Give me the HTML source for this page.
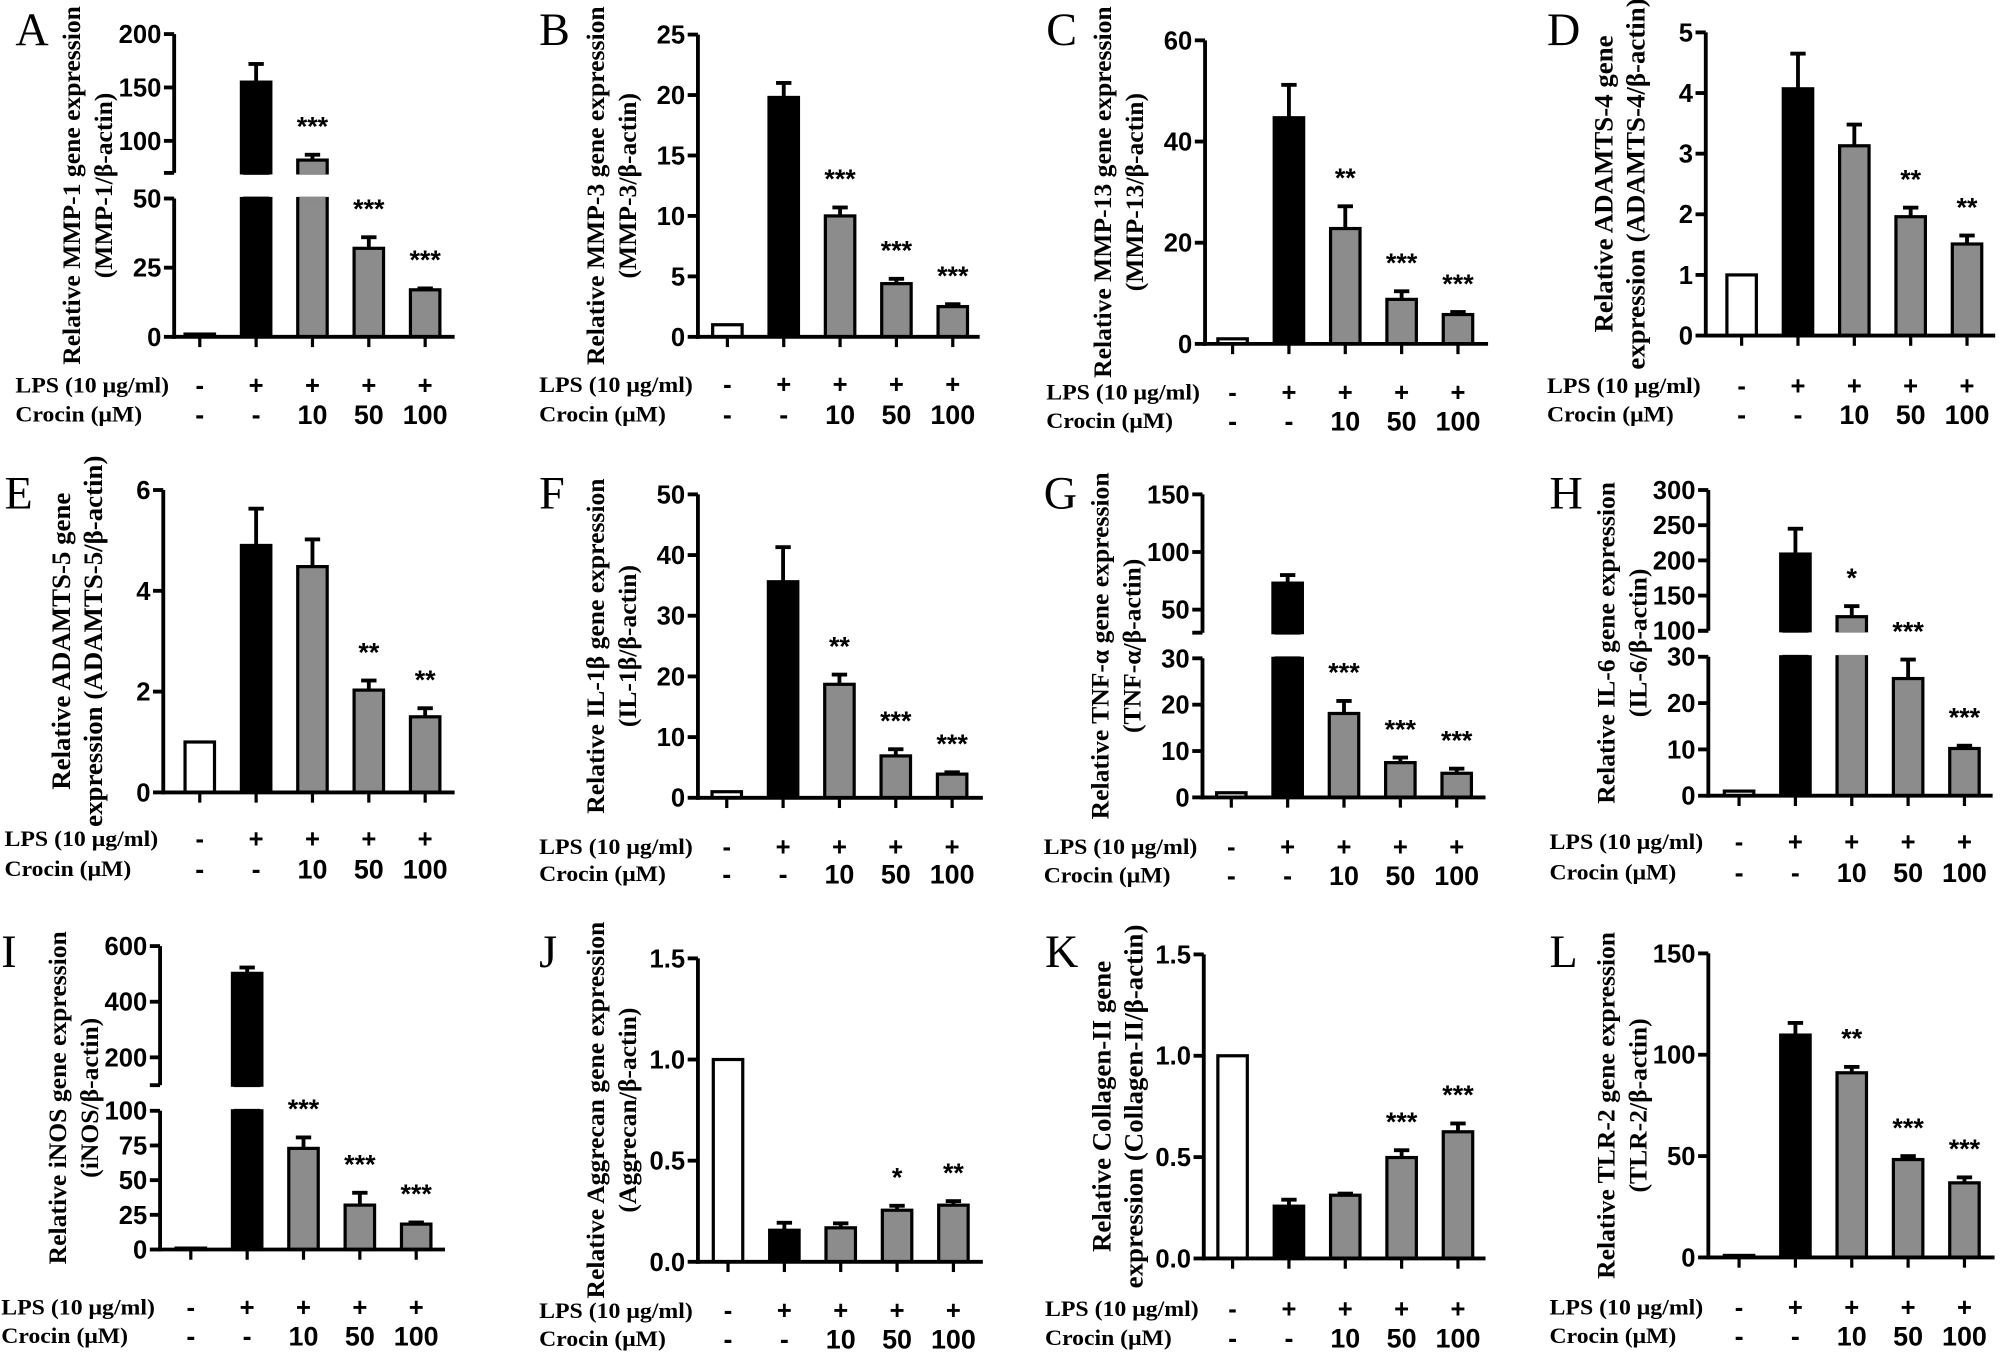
<!DOCTYPE html>
<html><head><meta charset="utf-8"><title>Crocin gene expression panels</title>
<style>
html,body{margin:0;padding:0;background:#fff;}
svg{display:block;}
</style></head>
<body>
<svg id="fig" xmlns="http://www.w3.org/2000/svg" width="2008" height="1364" viewBox="0 0 1568 1065" preserveAspectRatio="none"></svg>
<script>
// ---- data ----
const lpsLabels = ["-","+","+","+","+"];
const crocinLabels = ["-","-","10","50","100"];
const panelIds = ["A","B","C","D","E","F","G","H","I","J","K","L"];

const meanA = [1, 155, 82, 32, 17];      const errA = [1, 172, 87, 36, 17.5];   const starsA = ["","","***","***","***"];
const meanB = [1, 19.8, 10, 4.4, 2.5];   const errB = [1, 21, 10.7, 4.8, 2.7];  const starsB = ["","","***","***","***"];
const meanC = [1, 44.7, 22.8, 8.8, 5.8]; const errC = [1, 51.2, 27.2, 10.4, 6.3]; const starsC = ["","","**","***","***"];
const meanD = [1, 4.07, 3.13, 1.96, 1.51]; const errD = [1, 4.65, 3.48, 2.11, 1.65]; const starsD = ["","","","**","**"];
const meanE = [1, 4.9, 4.48, 2.03, 1.5]; const errE = [1, 5.63, 5.02, 2.22, 1.67]; const starsE = ["","","","**","**"];
const meanF = [1, 35.6, 18.7, 6.9, 3.9]; const errF = [1, 41.3, 20.3, 8.0, 4.2]; const starsF = ["","","**","***","***"];
const meanG = [1, 73, 18.1, 7.5, 5.2];   const errG = [1, 80, 20.8, 8.6, 6.2];  const starsG = ["","","***","***","***"];
const meanH = [1, 209, 120, 25.3, 10.2]; const errH = [1, 245, 135, 29.4, 10.8]; const starsH = ["","","*","***","***"];
const meanI = [1, 502, 72.9, 32, 18.3];  const errI = [1, 523, 80.8, 40.9, 19.5]; const starsI = ["","","***","***","***"];
const meanJ = [1, 0.156, 0.168, 0.255, 0.28]; const errJ = [1, 0.193, 0.19, 0.277, 0.30]; const starsJ = ["","","","*","**"];
const meanK = [1, 0.258, 0.312, 0.498, 0.625]; const errK = [1, 0.29, 0.32, 0.534, 0.666]; const starsK = ["","","","***","***"];
const meanL = [1, 109.7, 91.1, 48.3, 36.8]; const errL = [1, 115.7, 94, 50, 39.5]; const starsL = ["","","**","***","***"];

const ticksA_low = [0,25,50];   const ticksA_high = [100,150,200];
const ticksB = [0,5,10,15,20,25];
const ticksC = [0,20,40,60];
const ticksD = [0,1,2,3,4,5];
const ticksE = [0,2,4,6];
const ticksF = [0,10,20,30,40,50];
const ticksG_low = [0,10,20,30]; const ticksG_high = [50,100,150];
const ticksH_low = [0,10,20,30]; const ticksH_high = [100,150,200,250,300];
const ticksI_low = [0,25,50,75,100]; const ticksI_high = [200,400,600];
const ticksJ = [0,0.5,1,1.5];
const ticksK = [0,0.5,1,1.5];
const ticksL = [0,50,100,150];

// ---- layout (positions, not data) ----
const panels = [
 {id:"A", t1:"Relative MMP-1 gene expression", t2:"(MMP-1/\u03b2-actin)", fs:20, mean:meanA, err:errA, stars:starsA, ax:136, xEnd:355, first:20, rows:[300.6,323], ly:35,
  segs:[{v0:0,v1:50,y0:263,y1:155,ticks:ticksA_low},{v0:70,v1:200,y0:135,y1:26.6,ticks:ticksA_high}]},
 {id:"B", t1:"Relative MMP-3 gene expression", t2:"(MMP-3/\u03b2-actin)", fs:20, mean:meanB, err:errB, stars:starsB, ax:545, xEnd:765, first:23, rows:[300,323], ly:35,
  segs:[{v0:0,v1:25,y0:263,y1:27,ticks:ticksB}]},
 {id:"C", t1:"Relative MMP-13 gene expression", t2:"(MMP-13/\u03b2-actin)", fs:20, mean:meanC, err:errC, stars:starsC, ax:941, xEnd:1162, first:21.5, rows:[306,328], ly:35,
  segs:[{v0:0,v1:60,y0:268.5,y1:31.5,ticks:ticksC}]},
 {id:"D", t1:"Relative ADAMTS-4 gene", t2:"expression (ADAMTS-4/\u03b2-actin)", fs:21, mean:meanD, err:errD, stars:starsD, ax:1332, xEnd:1558, first:28, rows:[301,323], ly:35,
  segs:[{v0:0,v1:5,y0:262,y1:25.3,ticks:ticksD}]},
 {id:"E", t1:"Relative ADAMTS-5 gene", t2:"expression (ADAMTS-5/\u03b2-actin)", fs:21, mean:meanE, err:errE, stars:starsE, ax:127.5, xEnd:355, first:28.5, rows:[654.6,678], ly:397,
  segs:[{v0:0,v1:6,y0:618.7,y1:382.6,ticks:ticksE}]},
 {id:"F", t1:"Relative IL-1\u03b2 gene expression", t2:"(IL-1\u03b2/\u03b2-actin)", fs:20, mean:meanF, err:errF, stars:starsF, ax:545, xEnd:767.5, first:22.5, rows:[661,682], ly:397,
  segs:[{v0:0,v1:50,y0:622.9,y1:386,ticks:ticksF}]},
 {id:"G", t1:"Relative TNF-\u03b1 gene expression", t2:"(TNF-\u03b1/\u03b2-actin)", fs:20, mean:meanG, err:errG, stars:starsG, ax:939, xEnd:1160, first:22.5, rows:[661,683], ly:397,
  segs:[{v0:0,v1:30,y0:622.6,y1:514,ticks:ticksG_low},{v0:30,v1:150,y0:494,y1:386,ticks:ticksG_high}]},
 {id:"H", t1:"Relative IL-6 gene expression", t2:"(IL-6/\u03b2-actin)", fs:20, mean:meanH, err:errH, stars:starsH, ax:1334, xEnd:1556, first:24, rows:[657,680.7], ly:397,
  segs:[{v0:0,v1:30,y0:621.3,y1:512.8,ticks:ticksH_low},{v0:100,v1:300,y0:492.5,y1:382.6,ticks:ticksH_high}]},
 {id:"I", t1:"Relative iNOS gene expression", t2:"(iNOS/\u03b2-actin)", fs:20, mean:meanI, err:errI, stars:starsI, ax:125, xEnd:347.5, first:24, rows:[1020.4,1042.5], ly:755,
  segs:[{v0:0,v1:100,y0:975.6,y1:867.3,ticks:ticksI_low},{v0:100,v1:600,y0:847.3,y1:738.7,ticks:ticksI_high}]},
 {id:"J", t1:"Relative Aggrecan gene expression", t2:"(Aggrecan/\u03b2-actin)", fs:20, mean:meanJ, err:errJ, stars:starsJ, ax:545, xEnd:767.5, first:23.5, rows:[1023,1045], ly:755, dec:1,
  segs:[{v0:0,v1:1.5,y0:985.2,y1:748.3,ticks:ticksJ}]},
 {id:"K", t1:"Relative Collagen-II gene", t2:"expression (Collagen-II/\u03b2-actin)", fs:21, mean:meanK, err:errK, stars:starsK, ax:940, xEnd:1160, first:22.5, rows:[1021.6,1044], ly:755, dec:1,
  segs:[{v0:0,v1:1.5,y0:982.6,y1:745.2,ticks:ticksK}]},
 {id:"L", t1:"Relative TLR-2 gene expression", t2:"(TLR-2/\u03b2-actin)", fs:20, mean:meanL, err:errL, stars:starsL, ax:1334, xEnd:1557.5, first:24, rows:[1020.4,1042.5], ly:755,
  segs:[{v0:0,v1:150,y0:981.8,y1:744.4,ticks:ticksL}]}
];

const NS = "http://www.w3.org/2000/svg";
const svg = document.getElementById("fig");
function mk(parent, tag, attrs, txt){
  const e = document.createElementNS(NS, tag);
  for (const k in attrs) e.setAttribute(k, attrs[k]);
  if (txt !== undefined) e.textContent = txt;
  parent.appendChild(e);
  return e;
}
const SP = 44, BW = 23;
const SANS = '"Liberation Sans", Arial, sans-serif';
const SERIF = '"Liberation Serif", "Times New Roman", serif';

function segY(seg, v){ return seg.y0 + (v - seg.v0) * (seg.y1 - seg.y0) / (seg.v1 - seg.v0); }
function yScale(p, v){
  const lo = p.segs[0], hi = p.segs[1];
  if (!hi || v <= lo.v1) return segY(lo, v);
  if (v < hi.v0) return lo.y1;
  return segY(hi, v);
}

panels.forEach(p => {
  const g = mk(svg, "g", {});
  
  

  const letter = mk(g, "text", {x: p.ax - 124, y: p.ly, "font-family": SERIF, "font-size": 36}, p.id);
  
  

  // y title
  const lo = p.segs[0], top = p.segs[p.segs.length-1];
  const cy = (lo.y0 + top.y1) / 2;
  const t1 = mk(g, "text", {x: 0, y: 0, transform: `translate(${p.ax-80},${cy}) rotate(-90)`, "text-anchor":"middle", "dominant-baseline":"central", "font-family": SERIF, "font-weight":"bold", "font-size": p.fs}, p.t1);
  
  
  const t2 = mk(g, "text", {x: 0, y: 0, transform: `translate(${p.ax-55},${cy}) rotate(-90)`, "text-anchor":"middle", "dominant-baseline":"central", "font-family": SERIF, "font-weight":"bold", "font-size": p.fs}, p.t2);
  
  

  // bars
  p.mean.forEach((m, i) => {
    const cx = p.ax + p.first + i * SP;
    const fill = i === 0 ? "#ffffff" : (i === 1 ? "#000000" : "#8c8c8c");
    const yb = lo.y0;
    const hi = p.segs[1];
    if (i > 0) {
      const ye = yScale(p, p.err[i]);
      const ym = yScale(p, m);
      const el = mk(g, "line", {x1: cx, x2: cx, y1: ym, y2: ye, stroke: "#000", "stroke-width": 3});
      
      
      const cap = mk(g, "line", {x1: cx - 6, x2: cx + 6, y1: ye, y2: ye, stroke: "#000", "stroke-width": 3});
      
      
    }
    if (hi && m > lo.v1) {
      const r1 = mk(g, "rect", {x: cx - BW/2, y: lo.y1, width: BW, height: yb - lo.y1, fill: fill, stroke: "#000", "stroke-width": 2.5});
      
      
      const yt = yScale(p, m);
      if (m > hi.v0) {
        const r2 = mk(g, "rect", {x: cx - BW/2, y: yt, width: BW, height: hi.y0 - yt, fill: fill, stroke: "#000", "stroke-width": 2.5});
        
        
        const c1 = mk(g, "rect", {x: cx - BW/2 + 1.3, y: hi.y0 - 1.5, width: BW - 2.6, height: 3, fill: fill});
        
        
      }
      const c2 = mk(g, "rect", {x: cx - BW/2 + 1.3, y: lo.y1 - 1.5, width: BW - 2.6, height: 3, fill: fill});
      
      
    } else {
      const yt = yScale(p, m);
      const r = mk(g, "rect", {x: cx - BW/2, y: yt, width: BW, height: Math.max(yb - yt, 0.5), fill: fill, stroke: "#000", "stroke-width": 2.5});
      
      
    }
    if (p.stars[i]) {
      const st = mk(g, "text", {x: cx, y: yScale(p, p.err[i]) - 15, "text-anchor":"middle", "font-family": SANS, "font-weight":"bold", "font-size": 21}, p.stars[i]);
      
      
    }
    const xt = mk(g, "line", {x1: cx, x2: cx, y1: yb, y2: yb + 8, stroke: "#000", "stroke-width": 2.5});
    
    
    const l1 = mk(g, "text", {x: cx, y: p.rows[0] + 7, "text-anchor":"middle", "font-family": SANS, "font-weight":"bold", "font-size": 20}, lpsLabels[i]);
    
    
    const l2 = mk(g, "text", {x: cx, y: p.rows[1] + 8, "text-anchor":"middle", "font-family": SANS, "font-weight":"bold", "font-size": 21}, crocinLabels[i]);
    
    
  });

  p.segs.forEach((s, k) => {
    const ya = mk(g, "line", {x1: p.ax, x2: p.ax, y1: s.y0 + (k === 0 ? 1.5 : 0), y2: s.y1, stroke: "#000", "stroke-width": 3});
    
    
    if (k > 0) {
      const bt = mk(g, "line", {x1: p.ax - 8, x2: p.ax, y1: s.y0, y2: s.y0, stroke: "#000", "stroke-width": 3});
      
      
    }
    s.ticks.forEach(v => {
      const y = segY(s, v);
      const tk = mk(g, "line", {x1: p.ax - 8, x2: p.ax, y1: y, y2: y, stroke: "#000", "stroke-width": 3});
      
      
      const lbl = mk(g, "text", {x: p.ax - 10, y: y + 7, "text-anchor":"end", "font-family": SANS, "font-weight":"bold", "font-size": 20}, p.dec ? v.toFixed(p.dec) : String(v));
      
      
    });
  });
  const xa = mk(g, "line", {x1: p.ax - 1.5, x2: p.xEnd, y1: lo.y0, y2: lo.y0, stroke: "#000", "stroke-width": 3});
  
  

  const r1 = mk(g, "text", {x: p.ax - 124, y: p.rows[0] + 6, "font-family": SERIF, "font-weight":"bold", "font-size": 17, textLength: 120, lengthAdjust: "spacingAndGlyphs"}, "LPS (10 \u03bcg/ml)");
  
  
  const r2 = mk(g, "text", {x: p.ax - 124, y: p.rows[1] + 6, "font-family": SERIF, "font-weight":"bold", "font-size": 17, textLength: 99, lengthAdjust: "spacingAndGlyphs"}, "Crocin (\u03bcM)");
  
  
});
</script>
</body></html>
